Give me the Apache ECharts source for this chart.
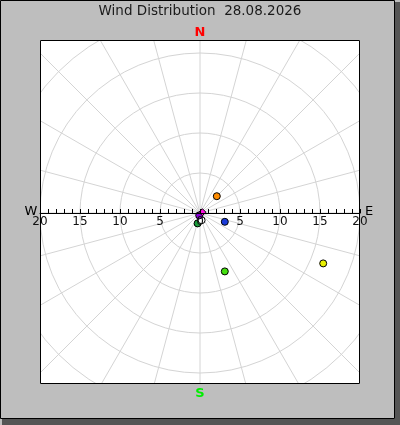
<!DOCTYPE html>
<html><head><meta charset="utf-8">
<script src="https://cdn.jsdelivr.net/npm/echarts@6/dist/echarts.min.js"></script>
<style>html,body{margin:0;padding:0;background:#fff}#c{width:400px;height:425px}</style>
</head><body><div id="c"></div>
<script>
const titleText = 'Wind Distribution  28.08.2026';
const axisTickValues = [-20,-15,-10,-5,0,5,10,15,20];
const pointEast  = [2.1, 3.1, 3.1, 15.4, -0.3, 0.2, -0.1, 0.3];
const pointNorth = [2.1, -1.1, -7.3, -6.3, -1.3, -0.9, -0.3, 0.1];
const pointColors = ['#ff8c00', '#1a3ad8', '#44e010', '#e8f000', '#1a9a3a', '#ffffff', '#8a00d8', '#ff10e0'];
const pointSymbols = ['circle','circle','circle','circle','circle','circle','circle','diamond'];

const chart = echarts.init(document.getElementById('c'), null, {renderer:'canvas'});
const data = pointEast.map((x,i)=>({value:[x, pointNorth[i]], symbol: pointSymbols[i], itemStyle:{color: pointColors[i]}}));
const gray = '#bebebe';
const font = 'DejaVu Sans';
chart.setOption({
  backgroundColor: gray,
  animation: false,
  polar: {center: [200, 213], radius: 240},
  radiusAxis: {min: 0, max: 30, interval: 5, axisLine:{show:false}, axisTick:{show:false}, axisLabel:{show:false},
    splitLine:{show:true, lineStyle:{color:'#d4d4d4', width:1}}},
  angleAxis: {min: 0, max: 360, interval: 15, startAngle: 90, axisLine:{show:false}, axisTick:{show:false}, axisLabel:{show:false},
    splitLine:{show:true, lineStyle:{color:'#d4d4d4', width:1}}},
  grid: [
    {left: 40, top: 40, width: 320, height: 344},
    {left: 40, top: 40, width: 320, height: 173}
  ],
  xAxis: [
    {type:'value', gridIndex:0, min:-20, max:20, show:false, splitLine:{show:false}},
    {type:'value', gridIndex:1, min:-20, max:20, interval:1, z: 200, position:'bottom',
      axisLine:{onZero:false, lineStyle:{color:'#000', width:1}},
      axisTick:{inside:true, length:4, lineStyle:{color:'#000'}},
      axisLabel:{margin:3, color:'#111', fontFamily:font, fontSize:12,
        formatter: v => axisTickValues.indexOf(v) >= 0 ? String(Math.abs(v)) : ''},
      splitLine:{show:false}}
  ],
  yAxis: [
    {type:'value', gridIndex:0, min:-21.375, max:21.625, show:false, splitLine:{show:false}},
    {type:'value', gridIndex:1, min:0, max:1, show:false, splitLine:{show:false}}
  ],
  graphic: [
    {type:'rect', z:-10, shape:{x:40, y:40, width:320, height:344}, style:{fill:'#fff'}},
    {type:'rect', z:100, shape:{x:0, y:0, width:400, height:40}, style:{fill:gray}},
    {type:'rect', z:100, shape:{x:0, y:384, width:400, height:41}, style:{fill:gray}},
    {type:'rect', z:100, shape:{x:0, y:40, width:40, height:344}, style:{fill:gray}},
    {type:'rect', z:100, shape:{x:360, y:40, width:40, height:344}, style:{fill:gray}},
    {type:'rect', z:101, shape:{x:40.5, y:40.5, width:319, height:343}, style:{fill:null, stroke:'#000', lineWidth:1}},
    {type:'rect', z:101, shape:{x:0.5, y:0.5, width:394, height:418}, style:{fill:null, stroke:'#000', lineWidth:1}},
    {type:'rect', z:101, shape:{x:395, y:2, width:5, height:423}, style:{fill:'#555'}},
    {type:'rect', z:101, shape:{x:2, y:419, width:398, height:6}, style:{fill:'#555'}},
    {type:'text', z:102, style:{text:titleText, x:200, y:11, align:'center', verticalAlign:'middle', font:'13.5px "DejaVu Sans"', fill:'#1a1a1a'}},
    {type:'text', z:102, style:{text:'N', x:200, y:33, align:'center', verticalAlign:'middle', font:'bold 13px "DejaVu Sans"', fill:'#ff0000'}},
    {type:'text', z:102, style:{text:'S', x:200, y:394, align:'center', verticalAlign:'middle', font:'bold 13px "DejaVu Sans"', fill:'#00ee00'}},
    {type:'text', z:102, style:{text:'W', x:31, y:212, align:'center', verticalAlign:'middle', font:'13px "DejaVu Sans"', fill:'#000'}},
    {type:'text', z:102, style:{text:'E', x:369, y:212, align:'center', verticalAlign:'middle', font:'13px "DejaVu Sans"', fill:'#000'}}
  ],
  series: [{type:'scatter', xAxisIndex:0, yAxisIndex:0, data: data, symbolSize: 7, z: 50,
    itemStyle:{borderColor:'#000', borderWidth:1, opacity:1}}]
});
</script></body></html>
